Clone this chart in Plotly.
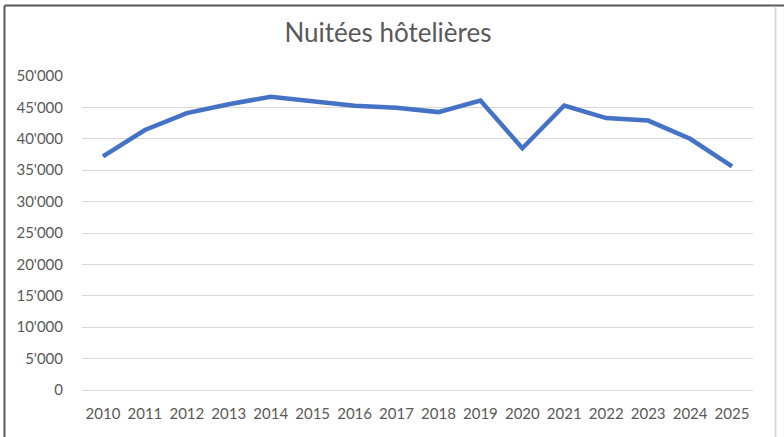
import plotly.graph_objects as go

years = [str(y) for y in range(2010, 2026)]
nuitees = [37200, 41400, 44100, 45500, 46700, 45900, 45250, 44950, 44250, 46100,
           38500, 45300, 43300, 42900, 40000, 35600]
title_text = "Nuitées hôtelières"
y_ticks = list(range(0, 50001, 5000))

GREY_TXT = "#595959"
FONT = "Lato"

fig = go.Figure()
fig.add_trace(go.Scatter(
    x=years, y=nuitees, mode="lines",
    line=dict(color="#4472C4", width=4.5, shape="linear"),
    hoverinfo="x+y", showlegend=False,
))

fig.update_layout(
    width=784, height=437,
    margin=dict(l=82, r=31, t=76, b=47, autoexpand=False),
    paper_bgcolor="white", plot_bgcolor="white",
    separators=".'",
    title=dict(text=title_text, x=388 / 784, xanchor="center", xref="container",
               y=1 - 33 / 437, yanchor="middle", yref="container",
               font=dict(family=FONT, size=26, color=GREY_TXT)),
    font=dict(family=FONT, color=GREY_TXT),
    xaxis=dict(type="category", range=[-0.5, 15.5], showgrid=False, zeroline=False,
               showline=False, ticks="", tickfont=dict(size=15, color=GREY_TXT),
               ticklabelstandoff=13, automargin=False, fixedrange=True),
    yaxis=dict(range=[0, 50000], tickvals=y_ticks, tickformat=",d", showgrid=True,
               gridcolor="#D9D9D9", gridwidth=1, zeroline=True, zerolinecolor="#D9D9D9",
               zerolinewidth=1, showline=False, ticks="",
               tickfont=dict(size=15, color=GREY_TXT), ticklabelstandoff=18,
               automargin=False, fixedrange=True),
    shapes=[
        dict(type="line", xref="paper", yref="paper", x0=-0.1155, x1=-0.1155,
             y0=1.2245, y1=-0.25, line=dict(color="#595959", width=2)),
        dict(type="line", xref="paper", yref="paper", x0=-0.1155, x1=1.2,
             y0=1.2245, y1=1.2245, line=dict(color="#595959", width=2)),
        dict(type="line", xref="paper", yref="paper", x0=1.0335, x1=1.0335,
             y0=1.2215, y1=-0.25, line=dict(color="#D9D9D9", width=2)),
    ],
)

fig.write_html("out.html", config={"displayModeBar": False},
               post_script="document.body.style.margin='0';")
